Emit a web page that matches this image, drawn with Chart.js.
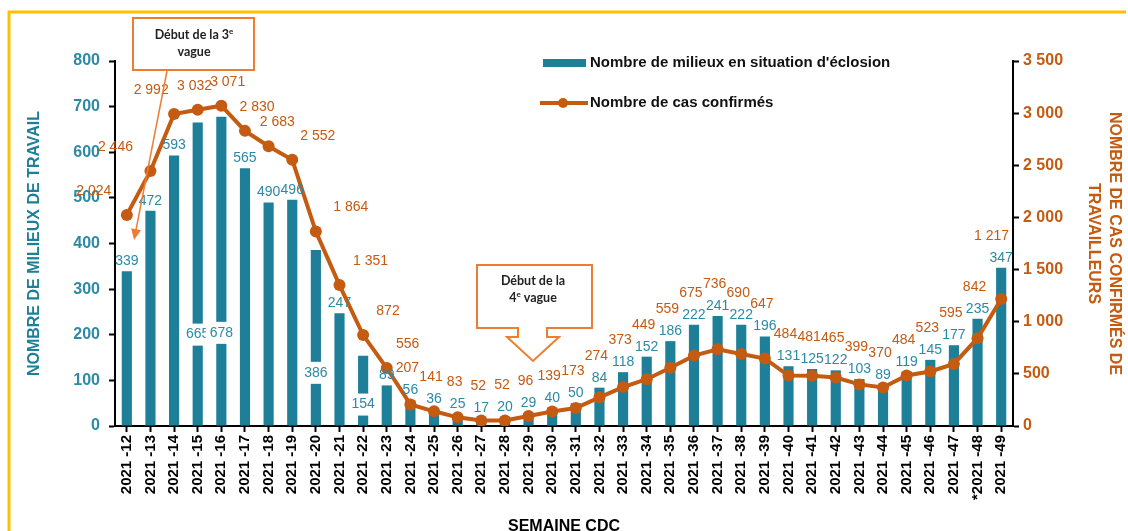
<!DOCTYPE html>
<html>
<head>
<meta charset="utf-8">
<script src="https://cdn.jsdelivr.net/npm/chart.js@4.4.1/dist/chart.umd.min.js"></script>
<style>
    body { margin: 0 ; background: #ffffff ; }
    #wrap { width: 1128px ; height: 531px ; }
</style>
</head>
<body>
<div id="wrap"><canvas id="eclosionChartCanvas" width="1128" height="531"></canvas></div>
<script>
// ---------------- Data -------------------------------------------------------
const WEEKS = [
    "2021 -12", "2021 -13", "2021 -14", "2021 -15", "2021 -16", "2021 -17",
    "2021 -18", "2021 -19", "2021 -20", "2021 -21", "2021 -22", "2021 -23",
    "2021 -24", "2021 -25", "2021 -26", "2021 -27", "2021 -28", "2021 -29",
    "2021 -30", "2021 -31", "2021 -32", "2021 -33", "2021 -34", "2021 -35",
    "2021 -36", "2021 -37", "2021 -38", "2021 -39", "2021 -40", "2021 -41",
    "2021 -42", "2021 -43", "2021 -44", "2021 -45", "2021 -46", "2021 -47",
    "*2021 -48", "2021 -49"
] ;

const MILIEUX = [
    339, 472, 593, 665, 678, 565, 490, 496, 386, 247, 154, 89,
    56, 36, 25, 17, 20, 29, 40, 50, 84, 118, 152, 186,
    222, 241, 222, 196, 131, 125, 122, 103, 89, 119, 145, 177,
    235, 347
] ;

const CAS = [
    2024, 2446, 2992, 3032, 3071, 2830, 2683, 2552, 1864, 1351, 872, 556,
    207, 141, 83, 52, 52, 96, 139, 173, 274, 373, 449, 559,
    675, 736, 690, 647, 484, 481, 465, 399, 370, 484, 523, 595,
    842, 1217
] ;

const LEFT_TICKS  = [ 0, 100, 200, 300, 400, 500, 600, 700, 800 ] ;
const RIGHT_TICKS = [ 0, 500, 1000, 1500, 2000, 2500, 3000, 3500 ] ;

const BAR_LABEL  = "Nombre de milieux en situation d'éclosion" ;
const LINE_LABEL = "Nombre de cas confirmés" ;

// ---------------- Constants --------------------------------------------------
const FONT        = 'Arial, "Liberation Sans", sans-serif' ;
const NOTE_FONT   = 'Lato, "Open Sans", sans-serif' ;
const TEAL_BAR    = '#1E7F99' ;
const TEAL_TEXT   = '#2B8AA6' ;
const ORANGE      = '#C55A11' ;
const NOTE_ORANGE = '#ED7D31' ;
const GOLD        = '#FFC000' ;

function fmt( v ) {
    return String( v ).replace( /\B(?=(\d{3})+(?!\d))/g, ' ' ) ;
}

// ---------------- Value labels -----------------------------------------------
function drawValueLabels( chart ) {

    var ctx = chart.ctx ;
    var bars = chart.getDatasetMeta( 0 ).data ;
    var points = chart.getDatasetMeta( 1 ).data ;
    var n = bars.length ;
    var areaRight = chart.chartArea.right ;

    ctx.save() ;
    ctx.font = '14px ' + FONT ;
    ctx.textAlign = 'center' ;
    ctx.textBaseline = 'middle' ;

    for( var i = 0 ; i < n ; i++ ) {
        var bar = bars[i] ;
        var pt = points[i] ;
        var barH = bar.base - bar.y ;
        var gap = bar.y - pt.y ;
        var inside = gap > 5 && gap < 25 && barH > 55 ;

        // bar label
        var txt = fmt( MILIEUX[i] ) ;
        var by = inside ? bar.base - barH * 0.3 : bar.y - 10 ;
        if( inside ) {
            var w = ctx.measureText( txt ).width + 8 ;
            ctx.fillStyle = '#ffffff' ;
            ctx.fillRect( bar.x - w / 2, by - 11, w, 22 ) ;
        }
        ctx.fillStyle = TEAL_TEXT ;
        ctx.fillText( txt, bar.x, by ) ;

        // line label
        var ltxt = fmt( CAS[i] ) ;
        var aboveBar = bar.y - 32 ;
        var abovePt = pt.y - 24 ;
        var lx, ly ;
        if( !inside && aboveBar < abovePt ) {
            lx = pt.x - 3 ;
            ly = aboveBar ;
        }
        else {
            var prev = points[ Math.max( i - 1, 0 ) ].y ;
            var next = points[ Math.min( i + 1, n - 1 ) ].y ;
            var s = ( next - prev ) / ( ( i > 0 && i < n - 1 ) ? 2 : 1 ) ;
            s = s < 0 ? s * 0.75 : s * 0.6 ;
            lx = pt.x + Math.max( -35, Math.min( 35, s ) ) ;
            ly = abovePt ;
        }
        var half = ctx.measureText( ltxt ).width / 2 ;
        lx = Math.min( lx, areaRight - half - 4 ) ;
        ctx.fillStyle = ORANGE ;
        ctx.fillText( ltxt, lx, ly ) ;
    }
    ctx.restore() ;
}

// ---------------- Legend and notes -------------------------------------------
function drawLegend( ctx ) {

    ctx.save() ;
    ctx.fillStyle = TEAL_BAR ;
    ctx.fillRect( 543, 59, 43, 8 ) ;

    ctx.strokeStyle = ORANGE ;
    ctx.lineWidth = 4 ;
    ctx.beginPath() ;
    ctx.moveTo( 540, 103 ) ;
    ctx.lineTo( 588, 103 ) ;
    ctx.stroke() ;
    ctx.fillStyle = ORANGE ;
    ctx.beginPath() ;
    ctx.arc( 563, 103, 5, 0, Math.PI * 2 ) ;
    ctx.fill() ;

    ctx.font = 'bold 15px ' + FONT ;
    ctx.fillStyle = '#111111' ;
    ctx.textAlign = 'left' ;
    ctx.textBaseline = 'middle' ;
    ctx.fillText( BAR_LABEL, 590, 63 ) ;
    ctx.fillText( LINE_LABEL, 590, 103 ) ;
    ctx.restore() ;
}

// parts: [ text, isSuperscript ] pairs drawn centred on cx
function drawNoteLine( ctx, parts, cx, y ) {

    var normal = 'bold 12.5px ' + NOTE_FONT ;
    var sup = 'bold 8px ' + NOTE_FONT ;
    var total = 0 ;
    parts.forEach( function( p ) {
        ctx.font = p[1] ? sup : normal ;
        total += ctx.measureText( p[0] ).width ;
    } ) ;
    var x = cx - total / 2 ;
    parts.forEach( function( p ) {
        ctx.font = p[1] ? sup : normal ;
        ctx.fillText( p[0], x, p[1] ? y - 4 : y ) ;
        x += ctx.measureText( p[0] ).width ;
    } ) ;
}

function drawNotes( ctx ) {

    ctx.save() ;
    ctx.strokeStyle = NOTE_ORANGE ;
    ctx.fillStyle = '#ffffff' ;
    ctx.lineWidth = 2 ;

    // 3e vague : box + thin arrow
    ctx.fillRect( 133, 18, 121, 52 ) ;
    ctx.strokeRect( 133, 18, 121, 52 ) ;

    var x0 = 167, y0 = 71, x1 = 134, y1 = 240 ;
    var ang = Math.atan2( y1 - y0, x1 - x0 ) ;
    ctx.lineWidth = 1.5 ;
    ctx.beginPath() ;
    ctx.moveTo( x0, y0 ) ;
    ctx.lineTo( x1 - 8 * Math.cos( ang ), y1 - 8 * Math.sin( ang ) ) ;
    ctx.stroke() ;
    ctx.fillStyle = NOTE_ORANGE ;
    ctx.beginPath() ;
    ctx.moveTo( x1, y1 ) ;
    ctx.lineTo( x1 - 11 * Math.cos( ang ) + 5 * Math.sin( ang ), y1 - 11 * Math.sin( ang ) - 5 * Math.cos( ang ) ) ;
    ctx.lineTo( x1 - 11 * Math.cos( ang ) - 5 * Math.sin( ang ), y1 - 11 * Math.sin( ang ) + 5 * Math.cos( ang ) ) ;
    ctx.closePath() ;
    ctx.fill() ;

    // 4e vague : callout with block arrow
    ctx.lineWidth = 2 ;
    ctx.fillStyle = '#ffffff' ;
    ctx.beginPath() ;
    ctx.moveTo( 477, 265 ) ;
    ctx.lineTo( 592, 265 ) ;
    ctx.lineTo( 592, 328 ) ;
    ctx.lineTo( 547, 328 ) ;
    ctx.lineTo( 547, 337 ) ;
    ctx.lineTo( 559, 337 ) ;
    ctx.lineTo( 533, 361 ) ;
    ctx.lineTo( 507, 337 ) ;
    ctx.lineTo( 518, 337 ) ;
    ctx.lineTo( 518, 328 ) ;
    ctx.lineTo( 477, 328 ) ;
    ctx.closePath() ;
    ctx.fill() ;
    ctx.stroke() ;

    ctx.fillStyle = '#222222' ;
    ctx.textAlign = 'left' ;
    ctx.textBaseline = 'middle' ;
    drawNoteLine( ctx, [ [ 'Début de la 3', false ], [ 'e', true ] ], 194, 35 ) ;
    drawNoteLine( ctx, [ [ 'vague', false ] ], 194, 52 ) ;
    drawNoteLine( ctx, [ [ 'Début de la', false ] ], 533, 281 ) ;
    drawNoteLine( ctx, [ [ '4', false ], [ 'e', true ], [ ' vague', false ] ], 533, 298 ) ;
    ctx.restore() ;
}

const decorPlugin = {
    id: 'decor',
    beforeDraw: function( chart ) {
        var ctx = chart.ctx ;
        ctx.save() ;
        ctx.fillStyle = '#ffffff' ;
        ctx.fillRect( 0, 0, chart.width, chart.height ) ;
        ctx.strokeStyle = GOLD ;
        ctx.lineWidth = 3 ;
        ctx.beginPath() ;
        ctx.moveTo( 9, chart.height ) ;
        ctx.lineTo( 9, 12 ) ;
        ctx.lineTo( 1126, 12 ) ;
        ctx.stroke() ;
        ctx.restore() ;
    },
    afterDatasetsDraw: function( chart ) {
        drawValueLabels( chart ) ;
    },
    afterDraw: function( chart ) {
        drawLegend( chart.ctx ) ;
        drawNotes( chart.ctx ) ;
    }
} ;

// ---------------- Chart ------------------------------------------------------
function getScaleOptions() {

    var axisGrid = {
        drawOnChartArea: false,
        drawTicks: true,
        tickLength: 6,
        tickWidth: 2,
        tickColor: '#000000',
        color: '#000000'
    } ;

    return {
        x: {
            offset: true,
            grid: Object.assign( {}, axisGrid, { offset: false } ),
            border: { display: true, color: '#000000', width: 2 },
            ticks: {
                autoSkip: false,
                minRotation: 90,
                maxRotation: 90,
                padding: 3,
                color: '#000000',
                font: { family: FONT, size: 15, weight: 'bold' }
            },
            title: {
                display: true,
                text: 'SEMAINE CDC',
                color: '#000000',
                font: { family: FONT, size: 16, weight: 'bold', lineHeight: 1.2 },
                padding: { top: 0, bottom: -5 }
            },
            afterFit: function( scale ) { scale.height = 105 ; }
        },
        y: {
            position: 'left',
            min: LEFT_TICKS[0],
            max: LEFT_TICKS[ LEFT_TICKS.length - 1 ],
            grid: axisGrid,
            border: { display: true, color: '#000000', width: 2 },
            ticks: {
                stepSize: LEFT_TICKS[1] - LEFT_TICKS[0],
                padding: 9,
                color: TEAL_TEXT,
                font: { family: FONT, size: 16, weight: 'bold' }
            },
            title: {
                display: true,
                text: 'NOMBRE DE MILIEUX DE TRAVAIL',
                color: TEAL_BAR,
                font: { family: FONT, size: 16, weight: 'bold', lineHeight: 1.2 },
                padding: { top: 25, bottom: 0 }
            },
            afterFit: function( scale ) { scale.width = 115 ; }
        },
        y1: {
            position: 'right',
            min: RIGHT_TICKS[0],
            max: RIGHT_TICKS[ RIGHT_TICKS.length - 1 ],
            grid: axisGrid,
            border: { display: true, color: '#000000', width: 2 },
            ticks: {
                stepSize: RIGHT_TICKS[1] - RIGHT_TICKS[0],
                padding: 4,
                color: ORANGE,
                font: { family: FONT, size: 16, weight: 'bold' },
                callback: function( value ) { return fmt( value ) ; }
            },
            title: {
                display: true,
                text: [ 'NOMBRE DE CAS CONFIRMÉS DE', 'TRAVAILLEURS' ],
                color: ORANGE,
                font: { family: FONT, size: 16, weight: 'bold', lineHeight: 1.3 },
                padding: { top: 3, bottom: 0 }
            },
            afterFit: function( scale ) { scale.width = 115 ; }
        }
    } ;
}

var canvas = document.getElementById( 'eclosionChartCanvas' ) ;
var chart = new Chart( canvas, {
    data: {
        labels: WEEKS,
        datasets: [
            {
                type: 'bar',
                label: BAR_LABEL,
                data: MILIEUX,
                backgroundColor: TEAL_BAR,
                barPercentage: 0.43,
                categoryPercentage: 1.0,
                yAxisID: 'y',
                order: 1
            },
            {
                type: 'line',
                label: LINE_LABEL,
                data: CAS,
                borderColor: ORANGE,
                backgroundColor: ORANGE,
                borderWidth: 4,
                pointRadius: 6,
                pointBorderWidth: 0,
                pointBackgroundColor: ORANGE,
                tension: 0,
                yAxisID: 'y1',
                order: 0
            }
        ]
    },
    options: {
        responsive: false,
        animation: false,
        layout: { padding: { top: 61, left: 0, right: 0, bottom: 0 } },
        plugins: {
            legend: { display: false },
            tooltip: { enabled: false }
        },
        scales: getScaleOptions()
    },
    plugins: [ decorPlugin ]
} ) ;
</script>
</body>
</html>
